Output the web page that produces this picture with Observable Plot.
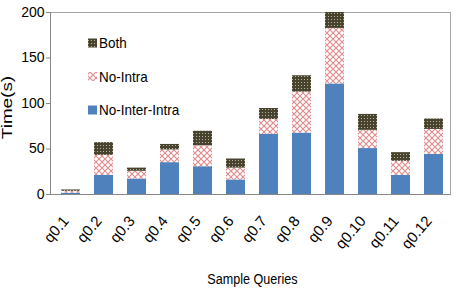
<!DOCTYPE html>
<html><head><meta charset="utf-8">
<script src="https://cdn.jsdelivr.net/npm/d3@7"></script>
<script src="https://cdn.jsdelivr.net/npm/@observablehq/plot@0.6"></script>
<style>
body{margin:0;background:#fff}
#chart{position:relative;width:457px;height:290px}
</style>
</head><body><div id="chart"></div>
<script>
const queries = ["q0.1","q0.2","q0.3","q0.4","q0.5","q0.6","q0.7","q0.8","q0.9","q0.10","q0.11","q0.12"];
const noInterIntra = [1.5, 21, 17, 35, 30.5, 16, 66, 67.5, 121.5, 50.5, 21, 44];
const noIntra      = [2, 22, 8.5, 14, 23, 13, 16.5, 45, 61, 20, 15.5, 27.5];
const both         = [1.5, 14, 3.5, 6, 16, 10, 12, 18, 17.5, 17.5, 9.5, 11.5];
const seriesNames = ["No-Inter-Intra", "No-Intra", "Both"];
const yTicks = [0, 50, 100, 150, 200];
const xTitle = "Sample Queries";
const yTitle = "Time(s)";

const seriesValues = [noInterIntra, noIntra, both];
const rows = [];
seriesNames.forEach((s, i) => queries.forEach((q, j) => rows.push({query: q, series: s, value: seriesValues[i][j]})));

const FONT = "'Liberation Sans', Arial, sans-serif";
const fills = ["#4f81bd", "url(#pat-nointra)", "url(#pat-both)"];

const plot = Plot.plot({
  width: 457, height: 290,
  marginLeft: 50, marginRight: 7, marginTop: 12, marginBottom: 96,
  style: {fontFamily: FONT, fontSize: "14px", color: "#000", background: "#fff", overflow: "visible"},
  x: {domain: queries, paddingInner: 0.425, paddingOuter: 0.262, align: 0.607, axis: null},
  y: {domain: [0, 200], axis: null},
  color: {domain: seriesNames, range: fills},
  marks: [
    Plot.frame({stroke: "#a6a6a6"}),
    Plot.barY(rows, {x: "query", y: "value", fill: "series", order: seriesNames}),
    Plot.frame({anchor: "left", stroke: "#868686"}),
    Plot.frame({anchor: "bottom", stroke: "#868686"}),
    Plot.axisY({ticks: yTicks, tickSize: 4, tickPadding: 2, stroke: "#868686", fontSize: 14, label: null}),
    Plot.text(queries, {x: d => d, text: d => d, frameAnchor: "bottom", rotate: -50, textAnchor: "end",
      dx: -1.5, dy: 26.8, fontSize: 15, className: "xtick"}),
    Plot.text([yTitle], {frameAnchor: "left", rotate: -90, textAnchor: "middle", dx: -43, dy: 4, fontSize: 14, className: "ytitle"}),
    Plot.text([xTitle], {frameAnchor: "bottom", dx: 2, dy: 89, fontSize: 15, className: "xtitle"})
  ]
});

const svg = d3.select(plot);
// the reference is horizontally compressed: mimic with text transforms
svg.selectAll("g.ytitle text").attr("transform", function() { return this.getAttribute("transform") + " scale(1.35,1)"; });
svg.selectAll("g.xtitle text").attr("transform", function() { return this.getAttribute("transform") + " scale(0.84,1)"; });

const defs = svg.insert("defs", ":first-child");
const pn = defs.append("pattern").attr("id", "pat-nointra").attr("patternUnits", "userSpaceOnUse").attr("width", 6).attr("height", 6);
pn.append("rect").attr("width", 6).attr("height", 6).attr("fill", "#fff");
pn.append("path").attr("d", "M0,0L6,6M6,0L0,6").attr("stroke", "#e28a8a").attr("stroke-width", 1.1).attr("fill", "none");
const pb = defs.append("pattern").attr("id", "pat-both").attr("patternUnits", "userSpaceOnUse").attr("width", 3).attr("height", 3);
pb.append("rect").attr("width", 3).attr("height", 3).attr("fill", "#48432f");
pb.append("rect").attr("x", 1).attr("y", 1).attr("width", 1).attr("height", 1).attr("fill", "#b7b397");

// legend (inside plot, top-left)
const legendOrder = ["Both", "No-Intra", "No-Inter-Intra"];
const lg = svg.append("g").attr("class", "legend").attr("font-family", FONT).attr("font-size", 15).attr("text-anchor", "start");
legendOrder.forEach((name, i) => {
  const y = 43 + i * 33.5;
  lg.append("rect").attr("x", 88).attr("y", y - 4.5).attr("width", 9).attr("height", 9)
    .attr("fill", fills[seriesNames.indexOf(name)]);
  lg.append("text").attr("transform", `translate(99,${y}) scale(0.9,1)`).attr("dy", "0.35em").text(name);
});

document.getElementById("chart").appendChild(plot);
</script>
</body></html>
